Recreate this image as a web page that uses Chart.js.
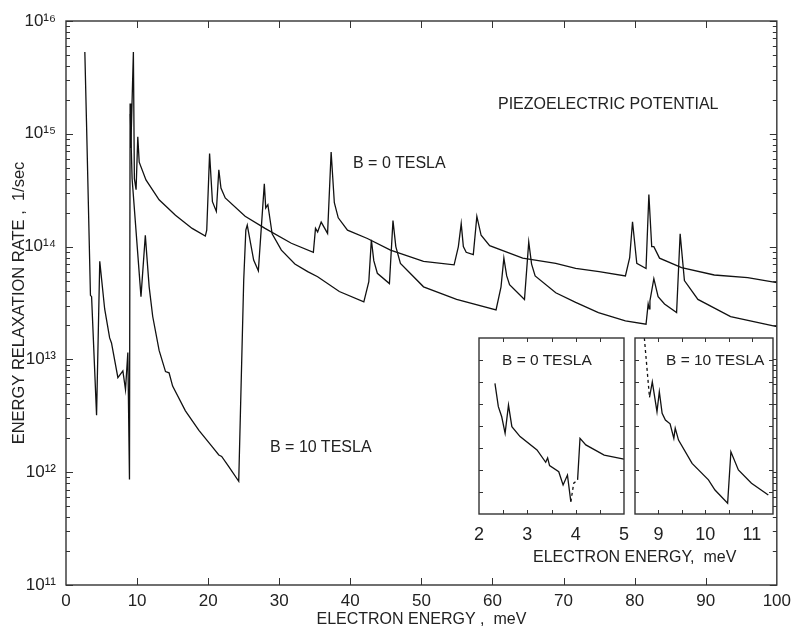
<!DOCTYPE html>
<html>
<head>
<meta charset="utf-8">
<script src="https://cdn.jsdelivr.net/npm/chart.js@4.4.0/dist/chart.umd.min.js"></script>
<style>
  body { margin: 0; background: #fff; }
  #wrap { position: relative; width: 797px; height: 631px; font-family: 'Liberation Sans', Arial, sans-serif; color: #222; }
  canvas { position: absolute; }
  .note { position: absolute; font-size: 16px; line-height: 16px; white-space: pre; }
  .small { font-size: 15.5px; }
</style>
</head>
<body>
<div id="wrap">
  <canvas id="mainChart" width="797" height="631" style="left:0;top:0"></canvas>
  <canvas id="inset0" width="175" height="215" style="left:464px;top:333px"></canvas>
  <canvas id="inset10" width="168" height="215" style="left:620px;top:333px"></canvas>
  <div class="note" style="left:498px;top:96px">PIEZOELECTRIC POTENTIAL</div>
  <div class="note" style="left:353px;top:155px">B = 0 TESLA</div>
  <div class="note" style="left:270px;top:439px">B = 10 TESLA</div>
  <div class="note small" style="left:502px;top:352px">B = 0 TESLA</div>
  <div class="note small" style="left:666px;top:352px">B = 10 TESLA</div>
  <div class="note" style="left:533px;top:549px;width:200px;text-align:center">ELECTRON ENERGY,  meV</div>
</div>
<script>
// --- data (energy in meV, rate in 1/sec) ---
const b0Energy = [2.65, 2.88, 3.44, 3.6, 4.3, 4.75, 5.44, 6.14, 6.4, 7.3, 8.0, 8.37, 8.7, 8.93, 9.02, 9.12, 9.48, 9.62, 9.86, 10.1, 10.3,
  11.25, 13.1, 15.4, 17.75, 19.6, 19.8, 20.2, 20.6, 21.15, 21.5, 21.8, 22.4, 25.2, 28, 31.7, 34.8, 35.1, 35.4, 35.9, 36.8, 37.3, 37.75,
  38.3, 39.6, 42.4, 45.65, 50.3, 54.6, 55.2, 55.6, 55.9, 56.3, 57.3, 57.8, 58.4, 59.6, 64.25, 68.9, 71.7, 75, 78.7, 79.3, 79.7, 80.3,
  81.6, 82.0, 82.4, 82.7, 83.5, 86.6, 91.2, 95.9, 100];
const b0Rate = [5.3e15, 1.3e15, 3.7e13, 3.6e13, 3.2e12, 7.4e13, 2.8e13, 1.55e13, 1.4e13, 6.9e12, 7.9e12, 5.4e12, 1.15e13, 8.6e11, 1.86e15, 7.5e14, 5.3e15, 4e14, 3.2e14, 9.4e14, 5.6e14,
  3.9e14, 2.6e14, 1.9e14, 1.45e14, 1.24e14, 1.4e14, 6.7e14, 2.5e14, 2.05e14, 4.8e14, 3.3e14, 2.7e14, 1.86e14, 1.45e14, 1.07e14, 8.9e13, 1.45e14, 1.35e14, 1.65e14, 1.31e14, 6.9e14, 2.45e14,
  1.8e14, 1.4e14, 1.18e14, 9.3e13, 7.4e13, 6.9e13, 1.0e14, 1.6e14, 1.0e14, 8.9e13, 8.5e13, 1.85e14, 1.26e14, 1.02e14, 7.9e13, 7.1e13, 6.4e13, 6.0e13, 5.5e13, 8e13, 1.66e14, 7.1e13,
  6.4e13, 2.9e14, 1.0e14, 1.0e14, 7.9e13, 6.5e13, 5.6e13, 5.3e13, 4.8e13];

const b10Energy = [9.05, 9.3, 10.55, 11.16, 11.34, 11.7, 12.2, 13.1, 14.0, 14.5, 15.0, 16.8, 18.7, 20.5, 21.5, 21.9, 22.9, 24.3,
  25.0, 25.3, 25.5, 26.4, 27.06, 27.9, 28.1, 28.4, 29.0, 30.3, 32.2, 34.0, 35.4, 38.45, 41.9, 42.6, 42.96, 43.3, 43.8, 45.5, 46.0,
  46.4, 47.05, 50.3, 54.95, 60.5, 61.2, 61.6, 62.0, 62.4, 64.5, 65.1, 65.5, 66.0, 68.9, 71.7, 74.9, 78.7, 81.6, 81.9, 82.05, 82.15,
  82.7, 83.3, 84.2, 85.9, 86.4, 87.0, 88.9, 93.5, 100];
const b10Rate = [1.5e15, 4e14, 3.6e13, 1.26e14, 8.8e13, 4.4e13, 2.4e13, 1.2e13, 7.8e12, 7.6e12, 5.8e12, 3.5e12, 2.35e12, 1.7e12, 1.42e12, 1.38e12, 1.12e12, 8.3e11,
  5e13, 1.4e14, 1.55e14, 7.6e13, 6.1e13, 3.6e14, 2.2e14, 2.35e14, 1.3e14, 9.3e13, 7e13, 6e13, 5.4e13, 4e13, 3.24e13, 4.9e13, 1.15e14, 7.5e13, 5.8e13, 4.7e13, 1.7e14,
  1.0e14, 7.1e13, 4.4e13, 3.4e13, 2.75e13, 4.4e13, 7.9e13, 5.5e13, 4.6e13, 3.4e13, 1.1e14, 7e13, 5.5e13, 3.9e13, 3.2e13, 2.6e13, 2.2e13, 2.05e13, 3.1e13, 2.8e13, 3.3e13,
  5.2e13, 3.6e13, 3.1e13, 2.6e13, 1.3e14, 5e13, 3.4e13, 2.4e13, 1.95e13];

// insets: y in arbitrary units (no labels on the original)
const inset0Energy = [2.33, 2.40, 2.47, 2.54, 2.61, 2.68, 2.85, 3.2, 3.38, 3.42, 3.46, 3.65, 3.74, 3.83, 3.90, 3.96, 4.04, 4.09, 4.21, 4.59, 5.0];
const inset0Rate = [5.94, 4.88, 4.42, 3.67, 4.95, 3.97, 3.52, 2.91, 2.35, 2.55, 2.2, 1.92, 1.32, 1.77, 0.56, 1.4, 1.55, 3.44, 3.14, 2.68, 2.49];
const inset10Energy = [8.70, 8.81, 8.87, 8.97, 9.02, 9.08, 9.15, 9.25, 9.33, 9.36, 9.43, 9.72, 10.07, 10.21, 10.48, 10.55, 10.71, 10.99, 11.35];
const inset10Rate = [8.0, 5.3, 6.0, 4.65, 5.56, 4.58, 4.27, 4.1, 3.44, 3.9, 3.36, 2.3, 1.55, 1.09, 0.49, 2.83, 2.0, 1.4, 0.86];

const yTickValues = [1e11, 1e12, 1e13, 1e14, 1e15, 1e16];
const xTickValues = [0, 10, 20, 30, 40, 50, 60, 70, 80, 90, 100];
const inset0Ticks = [2, 3, 4, 5];
const inset10Ticks = [9, 10, 11];

const inset0Dashed = [14, 15];
const inset10Dashed = [0];

const FONT = "'Liberation Sans', Arial, sans-serif";
const INK = '#222';
const SUP = {'0':'⁰','1':'¹','2':'²','3':'³','4':'⁴','5':'⁵','6':'⁶','7':'⁷','8':'⁸','9':'⁹'};

const pts = (xs, ys) => xs.map((x, i) => ({x: x, y: ys[i]}));

// frame + inward tick marks drawn through the chart's own scales
const frameTicks = {
  id: 'frameTicks',
  beforeDraw(chart) {
    const a = chart.chartArea, ctx = chart.ctx;
    ctx.save();
    ctx.fillStyle = '#fff';
    ctx.fillRect(a.left, a.top, a.right - a.left, a.bottom - a.top);
    ctx.restore();
  },
  afterDraw(chart, args, opts) {
    const {ctx, chartArea: a, scales} = chart;
    ctx.save();
    ctx.strokeStyle = '#333';
    ctx.lineWidth = 1;
    ctx.beginPath();
    (opts.xMarks || []).forEach(m => {
      const px = Math.round(scales.x.getPixelForValue(m.v)) + 0.5;
      ctx.moveTo(px, a.bottom); ctx.lineTo(px, a.bottom - m.len);
      ctx.moveTo(px, a.top); ctx.lineTo(px, a.top + m.len);
    });
    (opts.yMarks || []).forEach(m => {
      const py = Math.round(scales.y.getPixelForValue(m.v)) + 0.5;
      ctx.moveTo(a.left, py); ctx.lineTo(a.left + m.len, py);
      ctx.moveTo(a.right, py); ctx.lineTo(a.right - m.len, py);
    });
    ctx.stroke();
    ctx.lineWidth = 1.4;
    ctx.strokeStyle = '#333';
    ctx.strokeRect(a.left, a.top, a.right - a.left, a.bottom - a.top);
    ctx.restore();
  }
};

// main chart marks
const mainXMarks = xTickValues.slice(1, -1).map(v => ({v: v, len: 7}));
const mainYMarks = [];
yTickValues.forEach((d, i) => {
  mainYMarks.push({v: d, len: 7});
  if (i < yTickValues.length - 1) {
    for (let k = 2; k <= 9; k++) mainYMarks.push({v: k * d, len: 4});
  }
});

const lineStyle = {
  borderColor: '#111',
  borderWidth: 1.3,
  pointRadius: 0,
  tension: 0,
  fill: false
};

new Chart(document.getElementById('mainChart'), {
  type: 'line',
  data: {
    datasets: [
      Object.assign({label: 'B = 0 TESLA', data: pts(b0Energy, b0Rate)}, lineStyle),
      Object.assign({label: 'B = 10 TESLA', data: pts(b10Energy, b10Rate)}, lineStyle)
    ]
  },
  options: {
    responsive: false,
    animation: false,
    devicePixelRatio: 1,
    layout: { padding: { left: 0, top: 21, right: 13, bottom: 0 } },
    plugins: {
      legend: { display: false },
      tooltip: { enabled: false },
      frameTicks: { xMarks: mainXMarks, yMarks: mainYMarks }
    },
    scales: {
      x: {
        type: 'linear', min: 0, max: 100,
        afterBuildTicks: s => { s.ticks = xTickValues.map(v => ({value: v})); },
        afterFit: s => { s.height = 46; },
        grid: { display: false, drawTicks: false },
        border: { display: false },
        ticks: { font: { family: FONT, size: 17 }, color: INK, padding: 6, maxRotation: 0 },
        title: { display: true, text: 'ELECTRON ENERGY ,  meV', font: { family: FONT, size: 16 }, color: INK, padding: { top: 0, bottom: 2 } }
      },
      y: {
        type: 'logarithmic', min: 1e11, max: 1e16,
        afterBuildTicks: s => { s.ticks = yTickValues.map(v => ({value: v})); },
        afterFit: s => { s.width = 66; },
        grid: { display: false, drawTicks: false },
        border: { display: false },
        ticks: {
          font: { family: FONT, size: 17 }, color: INK, padding: 10,
          callback: v => '10' + String(Math.round(Math.log10(v))).split('').map(c => SUP[c]).join('')
        },
        title: { display: true, text: 'ENERGY RELAXATION RATE ,  1/sec', font: { family: FONT, size: 16.5 }, color: INK, padding: { top: 10, bottom: 0 } }
      }
    }
  },
  plugins: [frameTicks]
});

function makeInset(id, xs, ys, xMin, xMax, labels, dashed, padL, padR) {
  const xMarks = [];
  for (let v = Math.ceil(xMin * 2) / 2; v < xMax; v += 0.5) {
    if (v > xMin) xMarks.push({v: v, len: 4});
  }
  const yMarks = [1, 2, 3, 4, 5, 6, 7].map(v => ({v: v, len: 4}));
  new Chart(document.getElementById(id), {
    type: 'line',
    data: {
      datasets: [Object.assign({
        data: pts(xs, ys),
        segment: { borderDash: c => dashed.includes(c.p0DataIndex) ? [3, 3] : undefined }
      }, lineStyle)]
    },
    options: {
      responsive: false,
      animation: false,
      devicePixelRatio: 1,
      layout: { padding: { left: padL, right: padR, top: 5, bottom: 0 } },
      plugins: {
        legend: { display: false },
        tooltip: { enabled: false },
        frameTicks: { xMarks: xMarks, yMarks: yMarks }
      },
      scales: {
        x: {
          type: 'linear', min: xMin, max: xMax,
          afterBuildTicks: s => { s.ticks = labels.map(v => ({value: v})); },
          afterFit: s => { s.height = 34; },
          grid: { display: false, drawTicks: false },
          border: { display: false },
          ticks: { font: { family: FONT, size: 18 }, color: INK, padding: 10, maxRotation: 0 }
        },
        y: { type: 'linear', min: 0, max: 8, display: false }
      }
    },
    plugins: [frameTicks]
  });
}

makeInset('inset0', inset0Energy, inset0Rate, 2, 5, inset0Ticks, inset0Dashed, 15, 15);
makeInset('inset10', inset10Energy, inset10Rate, 8.5, 11.45, inset10Ticks, inset10Dashed, 15, 15);
</script>
</body>
</html>
